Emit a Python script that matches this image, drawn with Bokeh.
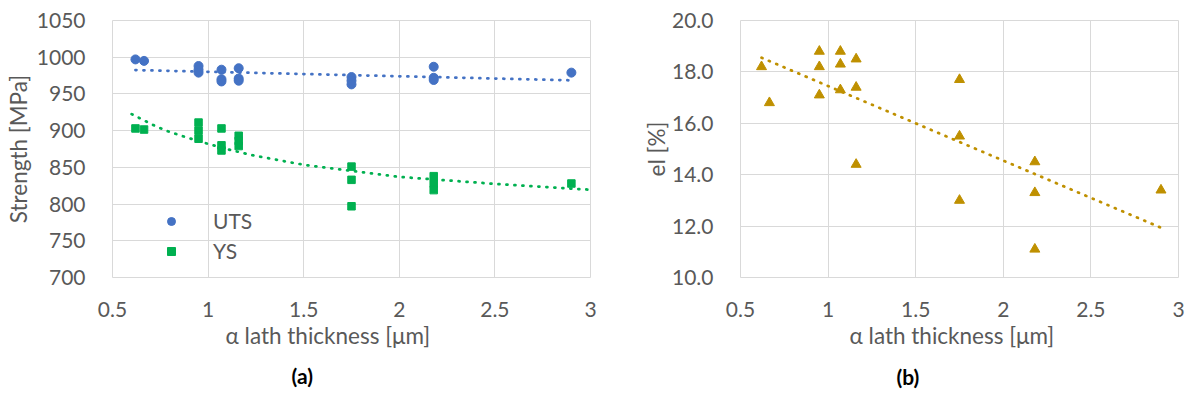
import numpy as np
from bokeh.plotting import figure
from bokeh.layouts import row
from bokeh.models import Range1d, FixedTicker, Legend, LegendItem, Title
from bokeh.embed import file_html
from bokeh.resources import INLINE

# ---------------- data ----------------
thickness = [0.62, 0.665, 0.95, 0.95, 0.95, 1.07, 1.07, 1.07, 1.16, 1.16, 1.16,
             1.75, 1.75, 1.75, 2.18, 2.18, 2.18, 2.9]
uts = [997, 995, 988, 983, 979, 983, 970, 967, 985, 971, 968,
       973, 968, 963, 987, 972, 969, 979]
ys = [903, 901.5, 911, 900, 889, 903, 880, 873, 893, 886, 879,
      851, 833, 797, 838, 828, 819, 828]
el = [18.2, 16.8, 18.8, 18.2, 17.1, 18.8, 18.3, 17.3, 18.5, 17.4, 14.4,
      17.7, 15.5, 13.0, 14.5, 13.3, 11.1, 13.4]

# YS trendline
ys_trend_x = [0.6, 0.71, 0.78, 0.89, 1.0, 1.12, 1.24, 1.5, 2.0, 2.5, 3.0]
ys_trend_y = [922.5, 908, 900, 890.5, 882, 873.5, 866, 853.5, 837, 827.5, 819.5]

x_ticks = [0.5, 1, 1.5, 2, 2.5, 3]
x_tick_labels = ["0.5", "1", "1.5", "2", "2.5", "3"]
s_ticks = [700, 750, 800, 850, 900, 950, 1000, 1050]
s_tick_labels = ["700", "750", "800", "850", "900", "950", "1000", "1050"]
e_ticks = [10, 12, 14, 16, 18, 20]
e_tick_labels = ["10.0", "12.0", "14.0", "16.0", "18.0", "20.0"]

x_title = "α lath thickness [μm]"
s_title = "Strength [MPa]"
e_title = "el [%]"

BLUE = "#4472C4"
GREEN = "#00B050"
GOLD = "#BF9000"
GRID = "#D9D9D9"
TXT = "#595959"
FONT = "Lato"


def style(p, yticks, ylabels):
    p.xaxis.ticker = FixedTicker(ticks=x_ticks)
    p.xaxis.major_label_overrides = {t: l for t, l in zip(x_ticks, x_tick_labels)}
    p.yaxis.ticker = FixedTicker(ticks=yticks)
    p.yaxis.major_label_overrides = {t: l for t, l in zip(yticks, ylabels)}
    for ax in (p.xaxis[0], p.yaxis[0]):
        ax.axis_line_color = None
        ax.major_tick_line_color = None
        ax.minor_tick_line_color = None
        ax.major_label_text_font = FONT
        ax.major_label_text_font_size = "21px"
        ax.major_label_text_color = TXT
    p.xaxis.major_label_standoff = 18
    p.yaxis.major_label_standoff = 21
    p.xgrid.ticker = FixedTicker(ticks=x_ticks)
    p.ygrid.ticker = FixedTicker(ticks=yticks)
    p.xgrid.grid_line_color = GRID
    p.ygrid.grid_line_color = GRID
    p.outline_line_color = GRID
    p.outline_line_width = 1
    p.background_fill_color = "white"
    p.border_fill_color = "white"


def title(p, s, place, align="center", offset=0, standoff=0, bold=False,
          color=TXT, size="22.5px"):
    p.add_layout(Title(text=s, align=align, offset=offset, standoff=standoff,
                       text_font=FONT, text_font_size=size,
                       text_font_style="bold" if bold else "normal",
                       text_color=color), place)


# ---------------- (a) strength ----------------
p1 = figure(width=640, height=400, output_backend="svg", toolbar_location=None,
            x_range=Range1d(0.5, 3), y_range=Range1d(700, 1050),
            min_border_left=111, min_border_right=50, min_border_top=17,
            min_border_bottom=121)
style(p1, s_ticks, s_tick_labels)

c_uts = np.polyfit(thickness, uts, 1)
tx = [min(thickness), max(thickness)]
p1.line(tx, list(np.polyval(c_uts, tx)), line_color=BLUE, line_width=2.75,
        line_dash="1 7", line_cap="round")
p1.line(ys_trend_x, ys_trend_y, line_color=GREEN, line_width=2.75,
        line_dash="1 7", line_cap="round")
r_uts = p1.scatter(thickness, uts, marker="circle", size=9, fill_color=BLUE,
                   line_color=BLUE)
r_ys = p1.scatter(thickness, ys, marker="square", size=7.5, fill_color=GREEN,
                  line_color=GREEN)

leg = Legend(items=[LegendItem(label="UTS", renderers=[r_uts]),
                    LegendItem(label="YS", renderers=[r_ys])],
             location=(49, 14), orientation="vertical",
             border_line_color=None, background_fill_alpha=0,
             padding=0, margin=0, spacing=5, glyph_height=20, glyph_width=20,
             label_height=20, label_standoff=32, label_text_font=FONT,
             label_text_font_size="21px", label_text_color=TXT)
p1.add_layout(leg, "center")
title(p1, s_title, "left", standoff=4)
title(p1, x_title, "below", align="left", offset=113, standoff=1)
title(p1, "(a)", "below", align="left", offset=179, standoff=22, bold=True,
      color="black", size="21px")

# ---------------- (b) elongation ----------------
p2 = figure(width=545, height=400, output_backend="svg", toolbar_location=None,
            x_range=Range1d(0.5, 3), y_range=Range1d(10, 20),
            min_border_left=94, min_border_right=7, min_border_top=20,
            min_border_bottom=123)
style(p2, e_ticks, e_tick_labels)

c_el = np.polyfit(thickness, el, 1)
p2.line(tx, list(np.polyval(c_el, tx)), line_color=GOLD, line_width=2.75,
        line_dash="1 7", line_cap="round")
p2.scatter(thickness, el, marker="triangle", size=10, fill_color=GOLD,
           line_color=GOLD)
title(p2, e_title, "left", standoff=0)
title(p2, x_title, "below", align="left", offset=109, standoff=1)
title(p2, "(b)", "below", align="left", offset=156, standoff=24, bold=True,
      color="black", size="21px")

layout = row(p1, p2)
open("out.html", "w").write(file_html(layout, INLINE))
